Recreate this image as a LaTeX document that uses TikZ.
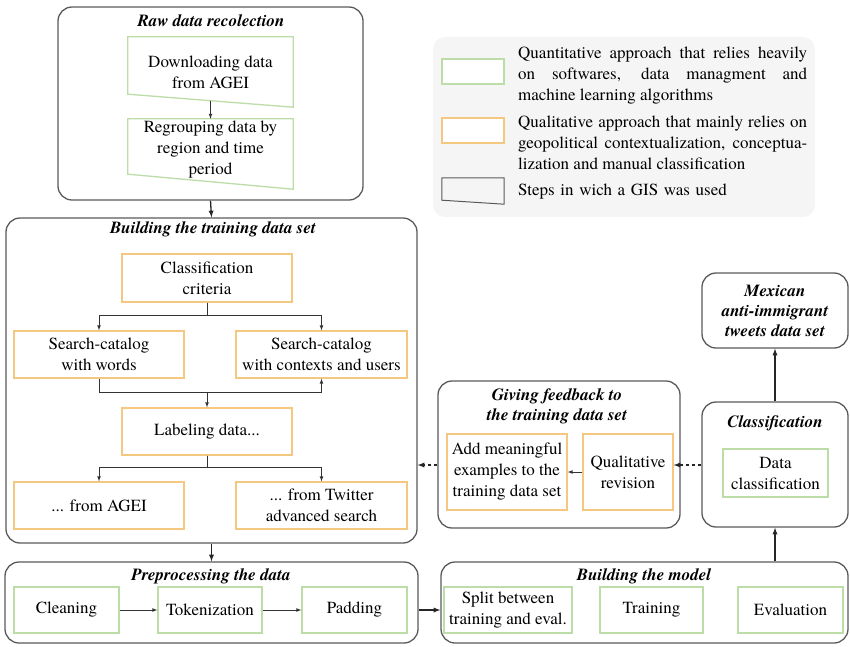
\documentclass[tikz,border=0pt]{standalone}
\usepackage{fontspec}
\setmainfont{texgyretermes}[Extension=.otf, UprightFont=*-regular, BoldFont=*-bold, ItalicFont=*-italic, BoldItalicFont=*-bolditalic]
\usetikzlibrary{arrows,calc}
\definecolor{qgreen}{RGB}{188,220,168}
\definecolor{qorange}{RGB}{244,200,128}
\definecolor{stagegray}{RGB}{90,90,90}
\definecolor{legendbg}{RGB}{245,245,245}

\begin{document}
\begin{tikzpicture}[x=1pt,y=-1pt,
	font=\fontsize{17}{21}\selectfont,
	stage/.style={draw=stagegray, line width=1.3pt, rounded corners=14pt, fill=white, inner sep=0pt},
	stagetitle/.style={font=\fontsize{17}{20}\selectfont\bfseries\itshape, align=center, inner sep=0pt},
	quanti/.style={draw=qgreen, line width=1.3pt, fill=white, align=center, inner sep=0pt},
	quali/.style={draw=qorange, line width=1.3pt, fill=white, align=center, inner sep=0pt},
	gis/.style={align=center, inner sep=0pt},
	flow/.style={-latex, line width=0.7pt, color=black!80},
	bigflow/.style={-latex, line width=1.3pt, color=black!85},
	back/.style={-latex, line width=1.3pt, dashed, color=black!85}]
				\useasboundingbox (0,0) rectangle (850,646);
				% legend
				\node[fill=legendbg, rounded corners=12pt, minimum width=382pt, minimum height=180pt, inner sep=0pt] (legend) at (624,127) {};
				\node[quanti, minimum width=62pt, minimum height=25pt] (lgq) at (473,71.5) {};
				\node[quali, minimum width=62pt, minimum height=25pt] (lgo) at (473,130.5) {};
				\node[gis, minimum width=62pt, minimum height=26pt] (lgg) at (473,191) {};
				\draw[stagegray, line width=1pt] ([yshift=4pt]lgg.south west) -- (lgg.north west) -- (lgg.north east) -- (lgg.south east) -- cycle;
				\node[text width=289pt, align=justify, anchor=west, inner sep=0pt] (lgqt) at (518,76) {Quantitative approach that relies heavily\linebreak on softwares, data managment and\linebreak machine learning algorithms};
				\node[text width=289pt, align=justify, anchor=west, inner sep=0pt] (lgot) at (518,143) {Qualitative approach that mainly relies on\linebreak geopolitical contextualization, conceptua-\linebreak lization and manual classification};
				\node[text width=289pt, align=left, anchor=west, inner sep=0pt] (lggt) at (518,192) {Steps in wich a GIS was used};
				% raw data recolection
				\node[stage, minimum width=305pt, minimum height=193pt] (raw) at (210.5,103.5) {};
				\node[stagetitle] (rawt) at (211,21) {Raw data recolection};
				\node[gis, minimum width=165pt, minimum height=70pt] (dl) at (210.5,72) {Downloading data\\from AGEI};
				\draw[qgreen, line width=1.3pt] ([yshift=13pt]dl.south west) -- (dl.north west) -- (dl.north east) -- (dl.south east) -- cycle;
				\node[gis, minimum width=165pt, minimum height=62pt] (rg) at (210.5,150) {Regrouping data by\\region and time\\period};
				\draw[qgreen, line width=1.3pt] ([yshift=7pt]rg.south west) -- (rg.north west) -- (rg.north east) -- ([yshift=-8pt]rg.south east) -- cycle;
				\draw[flow] ([yshift=6.5pt]dl.south) -- (rg.north);
				% building the training data set
				\node[stage, minimum width=411pt, minimum height=325pt] (build) at (211.5,380.5) {};
				\node[stagetitle] (buildt) at (213,229) {Building the training data set};
				\node[quali, minimum width=170pt, minimum height=48pt] (cc) at (207,278) {Classification\\criteria};
				\node[quali, minimum width=170pt, minimum height=47pt] (sw) at (99,354.5) {Search-catalog\\with words};
				\node[quali, minimum width=171pt, minimum height=47pt] (sc) at (321.5,354.5) {Search-catalog\\with contexts and users};
				\node[quali, minimum width=170pt, minimum height=47pt] (lab) at (207,431.5) {Labeling data...};
				\node[quali, minimum width=170pt, minimum height=47pt] (fa) at (99,505.5) {... from AGEI};
				\node[quali, minimum width=171pt, minimum height=47pt] (ft) at (321.5,505.5) {... from Twitter\\advanced search};
				\draw[flow] (cc.south) -- ++(0,13) -| (sw.north);
				\draw[flow] (cc.south) -- ++(0,13) -| (sc.north);
				\coordinate (mg) at (207,392);
				\draw[line width=0.7pt, black!80] (sw.south) |- (mg);
				\draw[flow] (mg) -| (sc.south);
				\draw[flow] (mg) -- (lab.north);
				\draw[flow] (lab.south) -- ++(0,12) -| (fa.north);
				\draw[flow] (lab.south) -- ++(0,12) -| (ft.north);
				% preprocessing the data
				\node[stage, minimum width=413pt, minimum height=81pt] (prep) at (211.5,602.5) {};
				\node[stagetitle] (prept) at (211,576) {Preprocessing the data};
				\node[quanti, minimum width=105pt, minimum height=46pt] (cl) at (66.5,610) {Cleaning};
				\node[quanti, minimum width=104pt, minimum height=46pt] (tk) at (210,610) {Tokenization};
				\node[quanti, minimum width=105pt, minimum height=46pt] (pd) at (354.5,610) {Padding};
				\draw[flow] (cl) -- (tk);
				\draw[flow] (tk) -- (pd);
				% building the model
				\node[stage, minimum width=407pt, minimum height=81pt] (model) at (644.5,602.5) {};
				\node[stagetitle] (modelt) at (644,576) {Building the model};
				\node[quanti, minimum width=128pt, minimum height=46pt] (sp) at (508,610) {Split between\\training and eval.};
				\node[quanti, minimum width=103pt, minimum height=46pt] (tr) at (651.5,610) {Training};
				\node[quanti, minimum width=105pt, minimum height=46pt] (ev) at (790.5,610) {Evaluation};
				% classification
				\node[stage, minimum width=146pt, minimum height=125pt] (cls) at (775,464.5) {};
				\node[stagetitle] (clst) at (775,423) {Classification};
				\node[quanti, minimum width=105pt, minimum height=48pt] (dc) at (775.5,473) {Data\\classification};
				\node[stage, minimum width=146pt, minimum height=75pt, stagetitle] (mex) at (775,310.5) {Mexican\\anti-immigrant\\tweets data set};
				% giving feedback
				\node[stage, minimum width=242pt, minimum height=147pt] (fb) at (559,454.5) {};
				\node[stagetitle] (fbt) at (557,406.5) {Giving feedback to\\the training data set};
				\node[quali, minimum width=120pt, minimum height=76pt] (am) at (507,472) {Add meaningful\\examples to the\\training data set};
				\node[quali, minimum width=90pt, minimum height=76pt] (qr) at (628,472) {Qualitative\\revision};
				\draw[flow] (qr) -- (am);
				% stage connectors
				\draw[bigflow] (raw.south) -- (build.north);
				\draw[bigflow] (build.south) -- (prep.north);
				\draw[bigflow] (prep.east |- pd.east) -- (model.west |- pd.east);
				\draw[bigflow] (cls.south |- model.north) -- (cls.south);
				\draw[bigflow] (cls.north) -- (mex.south);
				\draw[back] ($(cls.west |- qr.east)+(0,-7)$) -- ($(qr.east)+(0,-7)$);
				\draw[back] ($(fb.west |- qr.east)+(0,-7)$) -- ($(build.east |- qr.east)+(0,-7)$);
			\end{tikzpicture}
\end{document}
